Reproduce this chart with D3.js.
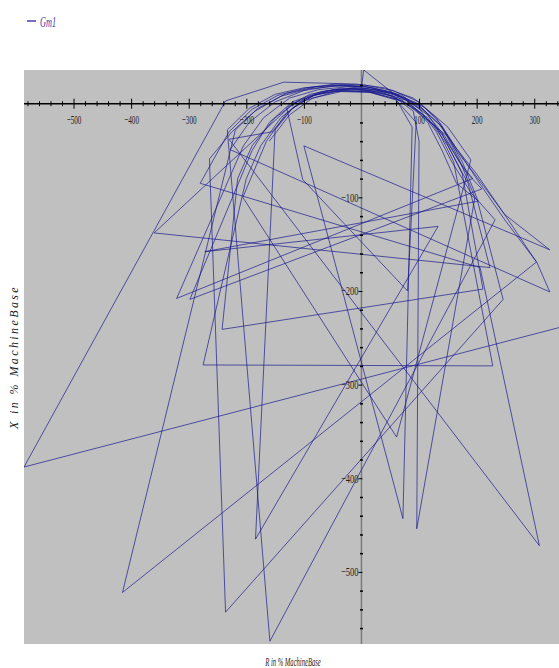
<!DOCTYPE html>
<html>
<head>
<meta charset="utf-8">
<script src="https://cdn.jsdelivr.net/npm/d3@7"></script>
<style>
  html, body { margin: 0; padding: 0; background: #ffffff; }
  svg { display: block; }
</style>
</head>
<body>
<div id="chart"></div>
<script>
// ---------- data ----------
const seriesName = "Gm1";
const xTickValues = [-500, -400, -300, -200, -100, 100, 200, 300];
const yTickValues = [-100, -200, -300, -400, -500];
const xTitle = "R in % MachineBase";
const yTitle = "X in % MachineBase";

// trajectory: [R, X] pairs
const gm1 = [
  [350,-238],
  [-586,-388],
  [-236,3],[-135,23],[-70,22],[-10,21],[40,17],[90,6],[130,-15],[165,-50],[200,-78],[246,-116],[305,-170],[327,-201],
  [-228,-49],
  [-195,-20],[-150,2],[-100,14],[-50,19],[0,19],[50,13],[95,1],[135,-22],[170,-52],[205,-85],[250,-125],[304,-169],
  [-415,-522],
  [-219,-28],
  [-185,-8],[-140,8],[-90,16],[-40,19],[10,18],[60,10],[100,-5],[130,-30],[155,-60],[190,-95],[232,-124],
  [-159,-574],
  [-233,-28],
  [-195,-5],[-150,10],[-100,17],[-45,20],[0,18],[4,36],[150,-35],[175,-62],[200,-100],[246,-209],
  [-236,-543],
  [-264,-59],
  [-225,-30],[-180,-5],[-130,11],[-80,18],[-30,20],[20,17],[70,9],[110,-8],[145,-35],[170,-62],[193,-80],
  [-321,-208],
  [-205,-45],[-170,-15],[-125,6],[-75,15],[-25,18],[25,15],[75,6],[115,-12],[150,-42],[180,-72],[209,-91],
  [-298,-209],
  [-190,-50],[-160,-20],[-120,2],[-70,13],[-20,16],[30,13],[80,3],[115,-20],[140,-50],[165,-85],[203,-104],
  [-272,-158],
  [133,-131],
  [-184,-465],
  [-150,-28],
  [-120,-5],[-80,10],[-35,15],[10,15],[55,8],[90,-8],[100,-40],[96,-454],
  [197,-100],[170,-60],[140,-25],[100,-2],[50,12],[0,17],[-50,15],[-100,5],[-140,-15],[-175,-45],[-200,-80],
  [-275,-279],
  [228,-280],
  [160,-62],[130,-25],[90,-3],[40,11],[-10,16],[-60,14],[-110,3],[-150,-15],[-190,-45],[-215,-80],
  [-242,-241],
  [211,-198],
  [175,-75],[140,-32],[100,-8],[55,8],[5,14],[-45,13],[-95,4],[-117,1],
  [-360,-138],
  [223,-175],
  [185,-85],[150,-45],[115,-15],[70,3],[20,12],[-30,14],[-80,10],[-120,-5],[-155,-30],[-230,-38],
  [309,-472],
  [206,-175],
  [-280,-85],
  [-230,-30],[-190,-6],[-145,9],[-95,17],[-45,21],[5,20],[55,14],[100,2],[138,-22],[165,-48],[200,-75],[248,-118],[327,-156],
  [-100,-45],
  [72,-443],
  [88,-25],[60,5],[10,13],[-40,14],[-90,8],[-130,-10],[-165,-40],[-206,-100],
  [61,-356],
  [190,-60],[150,-25],[110,-4],[60,10],[10,16],[-40,16],[-90,10],[-130,-4],[-102,-81],
  [80,-200],
  [83,-166],
  [95,-20],[60,4],[15,12],[-35,13],[-85,6],[-125,-12],[-160,-40]
];

// ---------- layout ----------
const W = 559, H = 668;
const plot = { left: 24, top: 70, right: 559, bottom: 644 };

const svg = d3.select("#chart").append("svg")
  .attr("width", W).attr("height", H)
  .style("font-family", "'Liberation Serif', 'DejaVu Serif', serif");

const xScale = d3.scaleLinear().domain([-586, 343]).range([plot.left, plot.right]);
const yScale = d3.scaleLinear().domain([36, -577]).range([plot.top, plot.bottom]);

svg.append("rect")
  .attr("x", plot.left).attr("y", plot.top)
  .attr("width", plot.right - plot.left).attr("height", plot.bottom - plot.top)
  .attr("fill", "#c0c0c0");

svg.append("clipPath").attr("id", "clip")
  .append("rect")
  .attr("x", plot.left).attr("y", plot.top)
  .attr("width", plot.right - plot.left).attr("height", plot.bottom - plot.top);

// vertical axis line (grey)
const x0 = xScale(0), y0 = yScale(0);
svg.append("line")
  .attr("x1", x0).attr("x2", x0)
  .attr("y1", plot.top).attr("y2", plot.bottom)
  .attr("stroke", "#7a7a7a").attr("stroke-width", 1.5);

// trajectory
const line = d3.line().x(d => xScale(d[0])).y(d => yScale(d[1]));
svg.append("g").attr("clip-path", "url(#clip)")
  .append("path")
  .datum(gm1)
  .attr("d", line)
  .attr("fill", "none")
  .attr("stroke", "#14148c")
  .attr("stroke-opacity", 0.68)
  .attr("stroke-width", 1)
  .attr("stroke-linejoin", "miter");

// horizontal axis line (black)
svg.append("line")
  .attr("x1", plot.left).attr("x2", plot.right)
  .attr("y1", y0).attr("y2", y0)
  .attr("stroke", "#000").attr("stroke-width", 1.5);

// x minor ticks
const xMinor = d3.range(-580, 341, 20).filter(v => v % 100 !== 0);
const xMinorAxis = d3.axisBottom(xScale).tickValues(xMinor).tickFormat("").tickSizeInner(3).tickSizeOuter(0);
const gxm = svg.append("g").attr("transform", `translate(0,${y0})`).call(xMinorAxis);
gxm.select(".domain").remove();
gxm.selectAll("line").attr("y1", -2.5).attr("y2", 2.5).attr("stroke", "#000");

// x major ticks + labels
const xAxis = d3.axisBottom(xScale).tickValues(xTickValues).tickFormat(d3.format("d")).tickSizeInner(5).tickSizeOuter(0);
const gx = svg.append("g").attr("transform", `translate(0,${y0})`).call(xAxis);
gx.select(".domain").remove();
gx.selectAll("line").attr("y1", -5).attr("y2", 5).attr("stroke", "#000");
gx.selectAll("text")
  .attr("y", 0).attr("dy", null)
  .attr("transform", "translate(0,20) scale(0.55,1)")
  .style("font-size", "13px")
  .style("font-family", "'Liberation Serif', serif")
  .attr("fill", "#222");

// y minor ticks
const yMinor = d3.range(-560, 21, 20).filter(v => v % 100 !== 0 && v !== 0);
const yMinorAxis = d3.axisLeft(yScale).tickValues(yMinor).tickFormat("").tickSizeInner(2).tickSizeOuter(0);
const gym = svg.append("g").attr("transform", `translate(${x0},0)`).call(yMinorAxis);
gym.select(".domain").remove();
gym.selectAll("line").attr("x1", -1.5).attr("x2", 1.5).attr("stroke", "#000").attr("stroke-width", 1.5);

// y major ticks + labels
const yAxis = d3.axisLeft(yScale).tickValues(yTickValues).tickFormat(d3.format("d")).tickSizeInner(4).tickSizeOuter(0);
const gy = svg.append("g").attr("transform", `translate(${x0},0)`).call(yAxis);
gy.select(".domain").remove();
gy.selectAll("line").attr("x1", -3).attr("x2", 1).attr("stroke", "#000");
gy.selectAll("text")
  .attr("x", 0).attr("dy", null)
  .attr("transform", "translate(-3,4) scale(0.65,1)")
  .style("font-size", "13px")
  .style("font-family", "'Liberation Serif', serif")
  .attr("fill", "#222");

// axis titles
svg.append("text")
  .attr("transform", `translate(293,666) scale(0.55,1)`)
  .attr("text-anchor", "middle")
  .style("font-size", "12px")
  .style("font-style", "italic")
  .attr("fill", "#222")
  .text(xTitle);

svg.append("text")
  .attr("transform", `translate(18,357) rotate(-90)`)
  .attr("text-anchor", "middle")
  .style("font-size", "12px")
  .style("font-style", "italic")
  .style("letter-spacing", "2.4px")
  .attr("fill", "#222")
  .text(yTitle);

// legend
svg.append("line")
  .attr("x1", 27).attr("x2", 36).attr("y1", 21).attr("y2", 21)
  .attr("stroke", "#14148c").attr("stroke-width", 1.2);
svg.append("text")
  .attr("transform", "translate(40,27) scale(0.55,1)")
  .style("font-size", "15px")
  .style("font-style", "italic")
  .attr("fill", "#3a3ab0")
  .text(seriesName);
</script>
</body>
</html>
